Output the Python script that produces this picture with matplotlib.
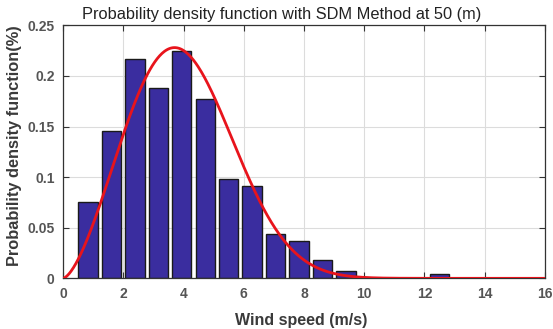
import numpy as np
import matplotlib
matplotlib.use("Agg")
import matplotlib.pyplot as plt

plt.rcParams["font.family"] = ["Liberation Sans", "DejaVu Sans"]

# Histogram bin centers (m/s) and densities
bin_centers = [0.83, 1.61, 2.39, 3.16, 3.94, 4.72, 5.50, 6.27, 7.05, 7.83,
               8.61, 9.39, 10.16, 10.94, 11.72, 12.50]
densities = [0.0757, 0.1455, 0.2167, 0.1884, 0.2246, 0.1772, 0.0978, 0.0909,
             0.0438, 0.0369, 0.0185, 0.0075, 0.0, 0.0, 0.0, 0.0040]
bar_width = 0.64

# Fitted Weibull parameters (shape k, scale c)
weibull_k = 2.55
weibull_c = 4.5

x_ticks = [0, 2, 4, 6, 8, 10, 12, 14, 16]
y_ticks = [0, 0.05, 0.1, 0.15, 0.2, 0.25]
y_tick_labels = ["0", "0.05", "0.1", "0.15", "0.2", "0.25"]

fig = plt.figure(figsize=(5.53, 3.29), dpi=100)
ax = fig.add_axes([0.114, 0.154, 0.8715, 0.769])

ax.bar(bin_centers, densities, width=bar_width, color="#3a2d9f",
       edgecolor="#1a1a1a", linewidth=1.0, zorder=2)

xs = np.linspace(0, 16, 600)
pdf = (weibull_k / weibull_c) * (xs / weibull_c) ** (weibull_k - 1) * np.exp(-(xs / weibull_c) ** weibull_k)
ax.plot(xs, pdf, color="#e8141c", linewidth=2.0, zorder=3)

ax.set_xlim(0, 16)
ax.set_ylim(0, 0.25)
ax.set_xticks(x_ticks)
ax.set_yticks(y_ticks)
ax.set_yticklabels(y_tick_labels)
ax.grid(True, color="#dcdcdc", linewidth=0.8, zorder=0)
ax.set_axisbelow(True)
ax.tick_params(direction="in", top=True, right=True, length=4, width=0.8,
               colors="#333333", labelsize=10, pad=6)
for lab in ax.get_xticklabels() + ax.get_yticklabels():
    lab.set_fontweight("bold")
    lab.set_color("#555555")
for sp in ax.spines.values():
    sp.set_color("#333333")
    sp.set_linewidth(0.9)

fig.text(282 / 553, 1 - 15 / 329, "Probability density function with SDM Method at 50 (m)",
         fontsize=11.8, color="#222222", ha="center", va="center")
fig.text(301.5 / 553, 1 - 320 / 329, "Wind speed (m/s)", fontsize=11.5,
         fontweight="bold", color="#3a3a3a", ha="center", va="center")
fig.text(15 / 553, 1 - 146 / 329, "Probability density function(%)", fontsize=11.8,
         fontweight="bold", color="#3a3a3a", ha="center", va="center", rotation=90)

fig.savefig("out.png", dpi=100)
